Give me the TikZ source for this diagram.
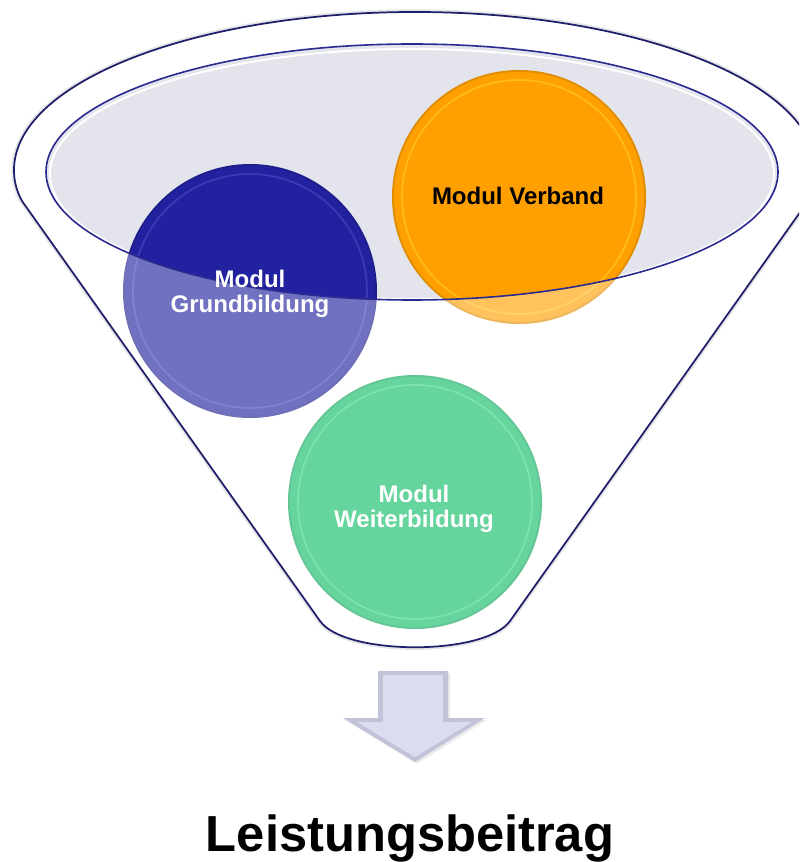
\documentclass[tikz,border=0pt]{standalone}
\usepackage{fontspec}
\setmainfont{Liberation Sans}
\definecolor{navy}{HTML}{1E1E6A}
\definecolor{rimblue}{HTML}{2A2A90}
\definecolor{opening}{HTML}{E3E4EC}
\definecolor{cblue}{HTML}{2222A0}
\definecolor{cbluehi}{HTML}{5C5CD8}
\definecolor{corange}{HTML}{FFA000}
\definecolor{corangehi}{HTML}{FFE040}
\definecolor{cgreen}{HTML}{10BC66}
\definecolor{cgreenhi}{HTML}{60F0A8}
\definecolor{arrowface}{HTML}{DCDCEF}
\definecolor{arrowedge}{HTML}{C2C2D8}
\tikzset{
  lbl/.style={font=\bfseries\fontsize{18}{19}\selectfont, align=center, inner sep=0pt},
  funnelline/.style={draw=navy, line width=1.3pt},
  openline/.style={draw=rimblue, line width=1.2pt},
}
\newcommand{\funnelpath}{(14,170) .. controls (14,180) and (16,190) .. (22,201) -- (320,621) .. controls (345,656) and (485,656) .. (510,621) -- (808,201) .. controls (814,190) and (816,180) .. (816,170) arc[start angle=0, end angle=-180, x radius=401, y radius=158] -- cycle}
\newcommand{\bubble}[4]{%
  \fill[#3!88!black] (#1) circle (#2);
  \fill[#3] (#1) circle (#2-2);
  \draw[#4, line width=1.2pt, opacity=0.45] (#1) circle (#2-10);
}
\begin{document}
\begin{tikzpicture}[x=0.75pt,y=-0.75pt]
\useasboundingbox (0,0) rectangle (799,862);
\clip (0,0) rectangle (799,862);
% funnel background
\draw[black!10, line width=4pt] \funnelpath;
\fill[white] \funnelpath;
\fill[opening] (412,172) ellipse [x radius=366, y radius=128];
\draw[white, line width=1.5pt] (412,174) ellipse [x radius=362, y radius=125];
% circles
\coordinate (cB) at (250,291);
\coordinate (cO) at (519,197);
\coordinate (cG) at (415,502);
\bubble{cB}{127}{cblue}{cbluehi}
\bubble{cO}{127}{corange}{corangehi}
\bubble{cG}{127}{cgreen}{cgreenhi}
% semi-transparent funnel body over the circles
\fill[white, opacity=0.36, even odd rule] \funnelpath (412,172) ellipse [x radius=366, y radius=128];
% outlines
\path[openline] (412,172) ellipse [x radius=366, y radius=128];
\path[funnelline] \funnelpath;
% labels
\node[lbl, text=white] (grund) at (250,294) {Modul\\Grundbildung};
\node[lbl, text=black, anchor=base] (verband) at (518,205) {Modul Verband};
\node[lbl, text=white] (weiter) at (414,509) {Modul\\Weiterbildung};
% arrow
\fill[black!20, opacity=0.4] (380,673) -- (450,673) -- (450,720) -- (487,720) -- (417,764) -- (345,720) -- (380,720) -- cycle;
\fill[arrowedge] (378,671) -- (448,671) -- (448,718) -- (485,718) -- (415,762) -- (343,718) -- (378,718) -- cycle;
\fill[arrowface] (383,675) -- (443,675) -- (443,722) -- (472,722) -- (415,757) -- (357,722) -- (383,722) -- cycle;
% title
\node[font=\bfseries\fontsize{38}{40}\selectfont, anchor=base, inner sep=0pt] (title) at (410,851) {Leistungsbeitrag};
\end{tikzpicture}
\end{document}
